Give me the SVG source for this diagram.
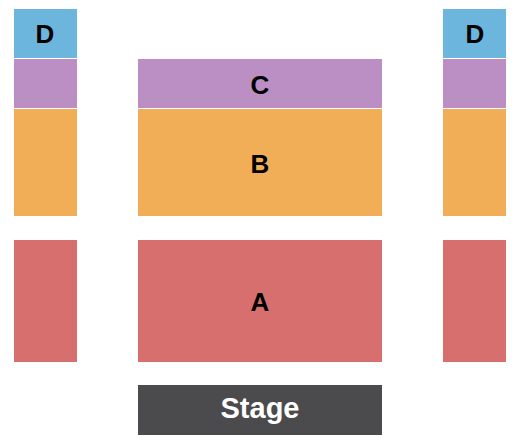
<svg xmlns="http://www.w3.org/2000/svg" width="525" height="448" viewBox="0 0 525 448">
<style>
.d{fill:#6cb5dd}.c{fill:#bb8fc3}.b{fill:#f2ae57}.a{fill:#d76f6f}.s{fill:#4b4a4c}
text{font-family:"Liberation Sans",Arial,sans-serif;font-weight:bold;font-size:26px;text-anchor:middle;fill:#000000}
.w{fill:#ffffff;font-size:29px}
</style>
<rect width="525" height="448" fill="#ffffff"/>
<g id="left-D"><rect class="d" x="14" y="9" width="63" height="49"/><text x="45" y="43">D</text></g>
<g id="left-C"><rect class="c" x="14" y="59" width="63" height="49"/></g>
<g id="left-B"><rect class="b" x="14" y="109" width="63" height="107"/></g>
<g id="left-A"><rect class="a" x="14" y="240" width="63" height="122"/></g>
<g id="right-D"><rect class="d" x="443" y="9" width="63" height="49"/><text x="475" y="43">D</text></g>
<g id="right-C"><rect class="c" x="443" y="59" width="63" height="49"/></g>
<g id="right-B"><rect class="b" x="443" y="109" width="63" height="107"/></g>
<g id="right-A"><rect class="a" x="443" y="240" width="63" height="122"/></g>
<g id="C"><rect class="c" x="138" y="59" width="244" height="49"/><text x="260" y="94">C</text></g>
<g id="B"><rect class="b" x="138" y="109" width="244" height="107"/><text x="260" y="173">B</text></g>
<g id="A"><rect class="a" x="138" y="240" width="244" height="122"/><text x="260" y="311">A</text></g>
<g id="Stage"><rect class="s" x="138" y="385" width="244" height="50"/><text class="w" x="260" y="418">Stage</text></g>
<g id="connectors"/>
</svg>
